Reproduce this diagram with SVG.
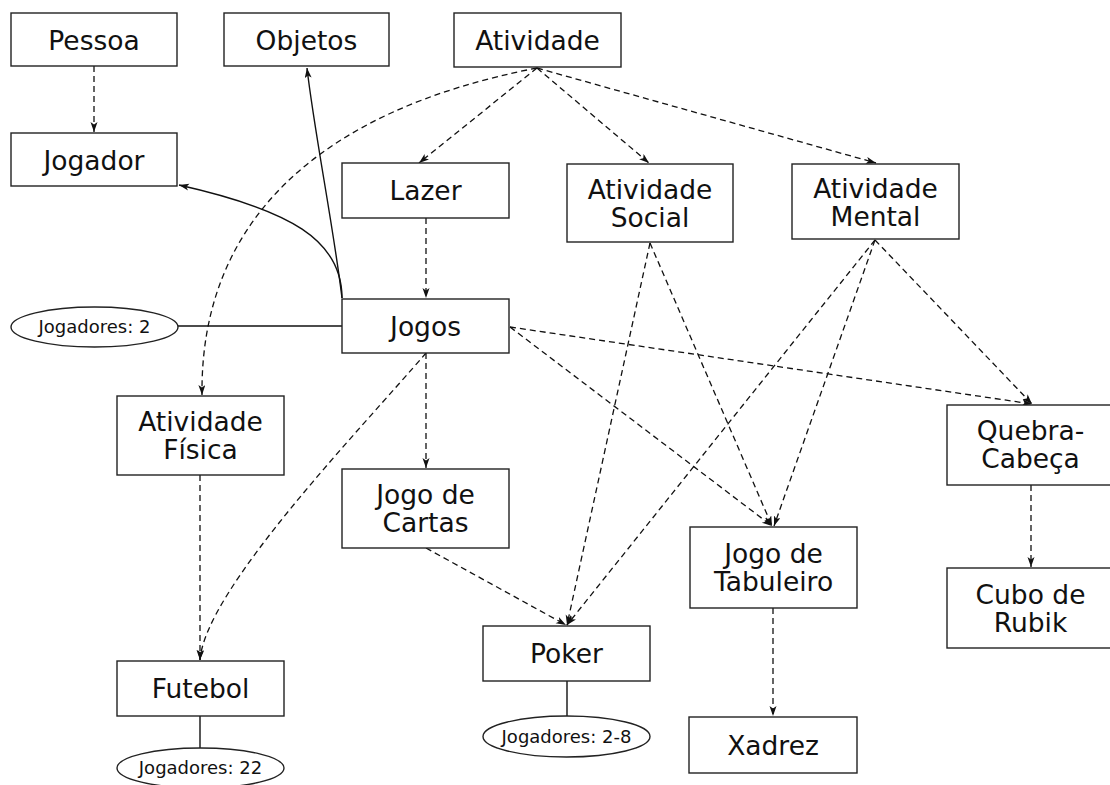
<svg xmlns="http://www.w3.org/2000/svg" width="1110" height="785" viewBox="0 0 1110 785">
  <defs>
    <marker id="arrow" markerUnits="userSpaceOnUse" markerWidth="11" markerHeight="8" refX="10" refY="3.5" orient="auto">
      <path d="M0,0 L10,3.5 L0,7 L2.5,3.5 z" fill="#111"/>
    </marker>
    <style>
      .box { fill: #fff; stroke: #222; stroke-width: 1.4; }
      .attr { fill: #fff; stroke: #222; stroke-width: 1.4; }
      .lbl { font-family: "DejaVu Sans", "Liberation Sans", sans-serif; font-size: 26.5px; fill: #111; text-anchor: middle; }
      .small { font-family: "DejaVu Sans", "Liberation Sans", sans-serif; font-size: 18px; fill: #111; text-anchor: middle; }
      .dash { fill: none; stroke: #111; stroke-width: 1.3; stroke-dasharray: 6 4; marker-end: url(#arrow); }
      .solid { fill: none; stroke: #111; stroke-width: 1.4; marker-end: url(#arrow); }
      .link { fill: none; stroke: #111; stroke-width: 1.4; }
    </style>
  </defs>
  <rect width="1110" height="785" fill="#fff"/>

  <!-- connectors -->
  <g id="connectors">
    <line class="dash" x1="94" y1="66" x2="94" y2="132"/>
    <path class="solid" d="M342,298 C334,230 314,130 307,68"/>
    <path class="solid" d="M342,298 C342,240 290,210 179,185"/>
    <line class="dash" x1="537" y1="68" x2="419" y2="163"/>
    <line class="dash" x1="537" y1="68" x2="649" y2="163"/>
    <line class="dash" x1="537" y1="68" x2="876" y2="163"/>
    <path class="dash" d="M537,68 C320,110 200,220 202,395"/>
    <line class="dash" x1="426" y1="218" x2="426" y2="298"/>
    <line class="dash" x1="426" y1="353" x2="426" y2="468"/>
    <path class="dash" d="M426,353 C360,430 205,590 200,660"/>
    <line class="dash" x1="200" y1="475" x2="200" y2="660"/>
    <line class="dash" x1="426" y1="548" x2="566" y2="625"/>
    <line class="dash" x1="650" y1="243" x2="567" y2="625"/>
    <line class="dash" x1="650" y1="243" x2="772" y2="526"/>
    <line class="dash" x1="875" y1="240" x2="567" y2="625"/>
    <line class="dash" x1="875" y1="240" x2="774" y2="526"/>
    <line class="dash" x1="875" y1="240" x2="1032" y2="404"/>
    <line class="dash" x1="510" y1="327" x2="1032" y2="404"/>
    <line class="dash" x1="510" y1="327" x2="772" y2="526"/>
    <line class="dash" x1="773" y1="608" x2="773" y2="716"/>
    <line class="dash" x1="1031" y1="485" x2="1031" y2="567"/>
    <line class="link" x1="178" y1="326" x2="342" y2="326"/>
    <line class="link" x1="200" y1="716" x2="200" y2="748"/>
    <line class="link" x1="567" y1="681" x2="567" y2="716"/>
  </g>

  <!-- nodes -->
  <g id="pessoa"><rect class="box" x="11" y="13" width="166" height="53"/><text class="lbl" x="94" y="50">Pessoa</text></g>
  <g id="objetos"><rect class="box" x="224" y="13" width="165" height="53"/><text class="lbl" x="306.5" y="50">Objetos</text></g>
  <g id="atividade"><rect class="box" x="454" y="13" width="167" height="54"/><text class="lbl" x="537.5" y="50">Atividade</text></g>
  <g id="jogador"><rect class="box" x="11" y="133" width="166" height="53"/><text class="lbl" x="94" y="170">Jogador</text></g>
  <g id="lazer"><rect class="box" x="342" y="163" width="167" height="55"/><text class="lbl" x="425.5" y="200">Lazer</text></g>
  <g id="atividade-social"><rect class="box" x="567" y="164" width="166" height="78"/><text class="lbl" x="650" y="198.5">Atividade</text><text class="lbl" x="650" y="226.5">Social</text></g>
  <g id="atividade-mental"><rect class="box" x="792" y="164" width="167" height="75"/><text class="lbl" x="875.5" y="197.5">Atividade</text><text class="lbl" x="875.5" y="225.5">Mental</text></g>
  <g id="jogos"><rect class="box" x="342" y="299" width="167" height="54"/><text class="lbl" x="425.5" y="336">Jogos</text></g>
  <g id="jogadores-2"><ellipse class="attr" cx="94.5" cy="327" rx="83.5" ry="20"/><text class="small" x="94.5" y="333">Jogadores: 2</text></g>
  <g id="atividade-fisica"><rect class="box" x="117" y="396" width="167" height="79"/><text class="lbl" x="200.5" y="431">Atividade</text><text class="lbl" x="200.5" y="459">Física</text></g>
  <g id="jogo-de-cartas"><rect class="box" x="342" y="469" width="167" height="79"/><text class="lbl" x="425.5" y="504">Jogo de</text><text class="lbl" x="425.5" y="532">Cartas</text></g>
  <g id="quebra-cabeca"><rect class="box" x="947" y="405" width="167" height="80"/><text class="lbl" x="1030.5" y="440">Quebra-</text><text class="lbl" x="1030.5" y="468">Cabeça</text></g>
  <g id="jogo-de-tabuleiro"><rect class="box" x="690" y="527" width="167" height="81"/><text class="lbl" x="773.5" y="562.5">Jogo de</text><text class="lbl" x="773.5" y="590.5">Tabuleiro</text></g>
  <g id="cubo-de-rubik"><rect class="box" x="947" y="568" width="167" height="80"/><text class="lbl" x="1030.5" y="603.5">Cubo de</text><text class="lbl" x="1030.5" y="631.5">Rubik</text></g>
  <g id="poker"><rect class="box" x="483" y="626" width="167" height="55"/><text class="lbl" x="566.5" y="663">Poker</text></g>
  <g id="jogadores-2-8"><ellipse class="attr" cx="566.5" cy="736.5" rx="83.5" ry="20.5"/><text class="small" x="566.5" y="742.5">Jogadores: 2-8</text></g>
  <g id="futebol"><rect class="box" x="117" y="661" width="167" height="55"/><text class="lbl" x="200.5" y="698">Futebol</text></g>
  <g id="jogadores-22"><ellipse class="attr" cx="200.5" cy="768" rx="83.5" ry="20"/><text class="small" x="200.5" y="774">Jogadores: 22</text></g>
  <g id="xadrez"><rect class="box" x="689" y="717" width="168" height="56"/><text class="lbl" x="773" y="755">Xadrez</text></g>
</svg>
